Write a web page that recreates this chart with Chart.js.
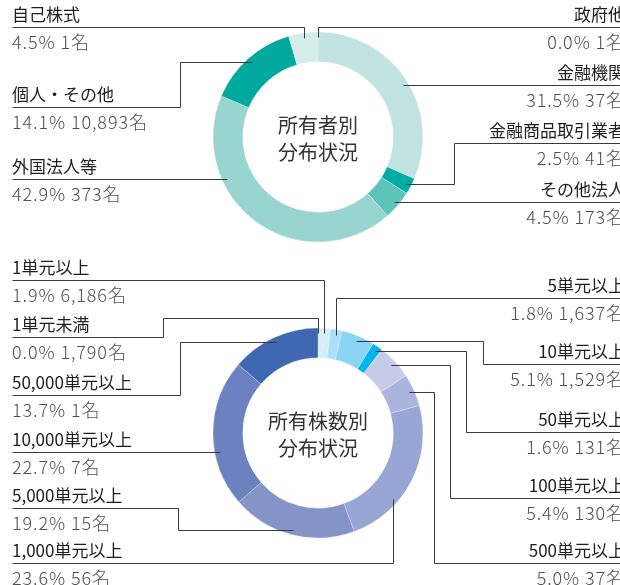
<!DOCTYPE html>
<html lang="ja">
<head>
<meta charset="utf-8">
<title>所有者別・所有株数別分布状況</title>
<script src="https://cdn.jsdelivr.net/npm/chart.js@4"></script>
<style>
  html, body { margin: 0; padding: 0; background: #fff; }
  #wrap { position: relative; width: 620px; height: 585px; overflow: hidden; }
  #wrap canvas { position: absolute; left: 0; top: 0; }
</style>
</head>
<body>
<div id="wrap">
  <canvas id="ownerChart" width="620" height="585"></canvas>
  <canvas id="shareChart" width="620" height="585"></canvas>
</div>
<script>
// --- data: 所有者別分布状況 (clockwise from 12 o'clock)
const ownerLabels = ['政府他', '金融機関', '金融商品取引業者', 'その他法人', '外国法人等', '個人・その他', '自己株式'];
const ownerPct    = [0.0, 31.5, 2.5, 4.5, 42.9, 14.1, 4.5];
const ownerCount  = [1, 37, 41, 173, 373, 10893, 1];
const ownerColors = ['#c9e7e5', '#c1e4e2', '#00ada2', '#5dc4bc', '#98d5d1', '#00a99d', '#d5ecea'];

// --- data: 所有株数別分布状況
const shareLabels = ['1単元未満', '1単元以上', '5単元以上', '10単元以上', '50単元以上', '100単元以上',
                     '500単元以上', '1,000単元以上', '5,000単元以上', '10,000単元以上', '50,000単元以上'];
const sharePct    = [0.0, 1.9, 1.8, 5.1, 1.6, 5.4, 5.0, 23.6, 19.2, 22.7, 13.7];
const shareCount  = [1790, 6186, 1637, 1529, 131, 130, 37, 56, 15, 7, 1];
const shareColors = ['#d6edfb', '#d6edfb', '#a9e0f8', '#8bd5f4', '#00b4ec', '#c6cbe6',
                     '#aab4dc', '#98a6d5', '#8494c9', '#6c81bf', '#4068b2'];

// --- leader layout (where each callout sits and how its line bends)
const ownerLeaders = [
  { side: 'right', lineY: 27,  kind: 'drop' },
  { side: 'right', lineY: 85,  kind: 'straight' },
  { side: 'right', lineY: 143, kind: 'elbow', x: 454 },
  { side: 'right', lineY: 202, kind: 'straight' },
  { side: 'left',  lineY: 179, kind: 'straight' },
  { side: 'left',  lineY: 107, kind: 'elbow', x: 180 },
  { side: 'left',  lineY: 27,  kind: 'drop' },
];
const shareLeaders = [
  { side: 'left',  lineY: 337, kind: 'elbow2', x: 163, shelf: 318 },
  { side: 'left',  lineY: 280, kind: 'drop' },
  { side: 'right', lineY: 298, kind: 'drop' },
  { side: 'right', lineY: 364, kind: 'elbow', x: 483 },
  { side: 'right', lineY: 432, kind: 'elbow', x: 466 },
  { side: 'right', lineY: 498, kind: 'elbow', x: 450 },
  { side: 'right', lineY: 563, kind: 'elbow', x: 434 },
  { side: 'left',  lineY: 563, kind: 'riser', x: 393 },
  { side: 'left',  lineY: 508, kind: 'elbow', x: 178 },
  { side: 'left',  lineY: 452, kind: 'straight' },
  { side: 'left',  lineY: 395, kind: 'elbow', x: 180 },
];

const FONT = '"Noto Sans CJK JP", "Noto Sans", sans-serif';
const LEFT_X = 12, RIGHT_X = 625, EDGE = 620;

function crisp(v) { return Math.round(v) + 0.5; }

// draws the callout text + leader lines from the arc geometry
const calloutPlugin = {
  id: 'callouts',
  afterDraw(chart, args, opts) {
    const ctx = chart.ctx;
    const arcs = chart.getDatasetMeta(0).data;
    const labels = chart.data.labels;
    const pct = opts.pct, cnt = opts.count, leaders = opts.leaders;
    const cx = arcs[0].x, cy = arcs[0].y;
    const r = arcs[0].outerRadius - 5;

    ctx.save();
    // center title
    ctx.fillStyle = '#333';
    ctx.font = '400 20px ' + FONT;
    ctx.textAlign = 'center';
    ctx.textBaseline = 'middle';
    ctx.fillText(opts.title[0], cx, cy - 12);
    ctx.fillText(opts.title[1], cx, cy + 15);

    leaders.forEach((L, i) => {
      const a = arcs[i];
      const mid = (a.startAngle + a.endAngle) / 2;
      const ex = cx + Math.cos(mid) * r, ey = cy + Math.sin(mid) * r;
      const sx = L.side === 'left' ? LEFT_X : EDGE;
      const y0 = L.lineY;
      const pts = [[sx, y0]];
      if (L.kind === 'straight') {
        const dx = Math.sqrt(Math.max(r * r - (y0 - cy) * (y0 - cy), 0));
        pts.push([L.side === 'left' ? cx - dx : cx + dx, y0]);
      } else if (L.kind === 'drop') {
        pts.push([ex, y0], [ex, ey]);
      } else if (L.kind === 'elbow') {
        pts.push([L.x, y0], [L.x, ey], [ex, ey]);
      } else if (L.kind === 'elbow2') {
        pts.push([L.x, y0], [L.x, L.shelf], [ex, L.shelf], [ex, ey]);
      } else if (L.kind === 'riser') {
        const dy = Math.sqrt(Math.max(r * r - (L.x - cx) * (L.x - cx), 0));
        pts.push([L.x, y0], [L.x, y0 > cy ? cy + dy : cy - dy]);
      }
      ctx.strokeStyle = '#3a3a3a';
      ctx.lineWidth = 1;
      ctx.beginPath();
      pts.forEach((p, k) => {
        const px = crisp(p[0]), py = crisp(p[1]);
        if (k === 0) ctx.moveTo(px, py); else ctx.lineTo(px, py);
      });
      ctx.stroke();

      const tx = L.side === 'left' ? LEFT_X : RIGHT_X;
      ctx.textAlign = L.side === 'left' ? 'left' : 'right';
      ctx.textBaseline = 'middle';
      ctx.fillStyle = '#1e1e1e';
      ctx.font = '400 17px ' + FONT;
      ctx.letterSpacing = '0px';
      ctx.fillText(labels[i], tx, y0 - 12);
      ctx.fillStyle = '#4e4e4e';
      ctx.font = '300 18px ' + FONT;
      ctx.letterSpacing = '0.9px';
      ctx.fillText(pct[i].toFixed(1) + '% ' + cnt[i].toLocaleString('en-US') + '名', tx, y0 + 15);
      ctx.letterSpacing = '0px';
    });
    ctx.restore();
  }
};

function makeDonut(id, labels, values, colors, pad, extra) {
  return new Chart(document.getElementById(id), {
    type: 'doughnut',
    data: {
      labels,
      datasets: [{
        data: values,
        backgroundColor: colors,
        borderColor: 'rgba(255,255,255,0.45)',
        borderWidth: 0.6,
      }],
    },
    options: {
      responsive: false,
      animation: false,
      radius: 105,
      cutout: 75,
      layout: { padding: pad },
      events: [],
      plugins: {
        legend: { display: false },
        tooltip: { enabled: false },
        callouts: extra,
      },
    },
    plugins: [calloutPlugin],
  });
}

makeDonut('ownerChart', ownerLabels, ownerPct, ownerColors,
  { left: 213, right: 197, top: 32, bottom: 343 },
  { pct: ownerPct, count: ownerCount, leaders: ownerLeaders, title: ['所有者別', '分布状況'] });

makeDonut('shareChart', shareLabels, sharePct, shareColors,
  { left: 213, right: 197, top: 328, bottom: 47 },
  { pct: sharePct, count: shareCount, leaders: shareLeaders, title: ['所有株数別', '分布状況'] });
</script>
</body>
</html>
